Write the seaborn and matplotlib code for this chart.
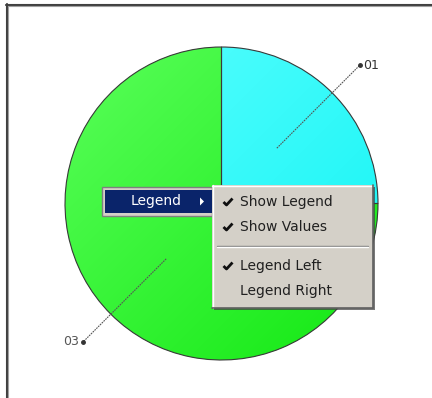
import matplotlib
matplotlib.use("Agg")
import matplotlib.pyplot as plt
import seaborn as sns
from matplotlib.patches import Rectangle, Polygon
from matplotlib.colors import to_rgb
import numpy as np

# ---- data ----
labels = ["01", "03"]
values = [25, 75]
colors_light = ["#5cffff", "#5aff5a"]
colors_dark = ["#0ff4f4", "#12e812"]
menu_main = "Legend"
menu_items = ["Show Legend", "Show Values", "Legend Left", "Legend Right"]
menu_checked = [True, True, True, False]

sns.set_theme(style="white")
plt.rcParams['font.family'] = ['DejaVu Sans']

W, H = 432, 398
fig = plt.figure(figsize=(W / 100, H / 100), dpi=100)
ax = fig.add_axes([0, 0, 1, 1])

def Y(py):
    return H - py

cx, cy, r = 221.5, Y(203.5), 156.5
mid_colors = [tuple((np.array(to_rgb(a)) + np.array(to_rgb(b))) / 2)
              for a, b in zip(colors_light, colors_dark)]
wedges, _ = ax.pie(values, colors=mid_colors, startangle=90, counterclock=False,
                   center=(cx, cy), radius=r, frame=True,
                   wedgeprops=dict(linewidth=0))

# diagonal gradient fill clipped to each wedge
n = 200
gx, gy = np.meshgrid(np.linspace(0, 1, n), np.linspace(0, 1, n))
t = np.clip((gx + gy) / 2, 0, 1)[..., None]  # 0 at top-left, 1 at bottom-right
for w, cl, cd in zip(wedges, colors_light, colors_dark):
    img = (1 - t) * np.array(to_rgb(cl)) + t * np.array(to_rgb(cd))
    im = ax.imshow(img, extent=(cx - r, cx + r, cy - r, cy + r), origin="upper",
                   zorder=2, interpolation="bilinear")
    im.set_clip_path(w)

# outlines on top
ax.pie(values, colors=["none"] * len(values), startangle=90, counterclock=False,
       center=(cx, cy), radius=r, frame=True,
       wedgeprops=dict(edgecolor="#3a3a3a", linewidth=0.8, fill=False, zorder=3))

ax.set_xlim(0, W)
ax.set_ylim(0, H)
ax.set_aspect("equal")
ax.axis("off")

# leader lines and labels
for w, lab in zip(wedges, labels):
    ang = np.deg2rad((w.theta1 + w.theta2) / 2)
    x0, y0 = cx + 0.5 * r * np.cos(ang), cy + 0.5 * r * np.sin(ang)
    x1, y1 = cx + 1.25 * r * np.cos(ang), cy + 1.25 * r * np.sin(ang)
    ax.plot([x0, x1], [y0, y1], color="#555555", lw=0.8, ls=(0, (1.5, 0.8)), zorder=4)
    ax.plot([x1], [y1], marker="o", ms=2.5, color="#333333", zorder=4)
    if np.cos(ang) >= 0:
        ax.text(x1 + 3, y1, lab, ha="left", va="center", fontsize=9, color="#333333")
    else:
        ax.text(x1 - 4, y1, lab, ha="right", va="center", fontsize=9, color="#555555")

# frame lines
ax.plot([6, W], [Y(4.5), Y(4.5)], color="#404040", lw=1.5)
ax.plot([6.5, 6.5], [Y(4), 0], color="#404040", lw=1.5)
ax.plot([8, 8], [Y(6), 0], color="#a0a0a0", lw=0.8)
ax.plot([8, W], [Y(6), Y(6)], color="#a0a0a0", lw=0.8)

# context menu: highlighted item
mx0, mx1, my0, my1 = 102, 212, 187, 216
ax.add_patch(Rectangle((mx0, Y(my1)), mx1 - mx0, my1 - my0, facecolor="#d4d0c8",
                       edgecolor="#808080", lw=1, zorder=5))
ax.add_patch(Rectangle((mx0 + 3, Y(my1 - 3)), mx1 - mx0 - 3, my1 - my0 - 6,
                       facecolor="#0a246a", edgecolor="none", zorder=6))
ax.text(156, Y(201.5), menu_main, ha="center", va="center", fontsize=10,
        color="white", zorder=7)
ax.add_patch(Polygon([[200, Y(197.5)], [200, Y(205.5)], [204, Y(201.5)]],
                     closed=True, facecolor="white", edgecolor="none", zorder=7))

# submenu
sx0, sx1, sy0, sy1 = 212, 373, 185, 308
ax.add_patch(Rectangle((sx0 + 2, Y(sy1 + 2)), sx1 - sx0, sy1 - sy0,
                       facecolor="#404040", edgecolor="none", zorder=5, alpha=0.7))
ax.add_patch(Rectangle((sx0, Y(sy1)), sx1 - sx0, sy1 - sy0, facecolor="#d4d0c8",
                       edgecolor="none", zorder=6))
ax.plot([sx0, sx1], [Y(sy0 + 0.5), Y(sy0 + 0.5)], color="white", lw=1, zorder=7)
ax.plot([sx0 + 0.5, sx0 + 0.5], [Y(sy0), Y(sy1)], color="white", lw=1, zorder=7)
ax.plot([sx0, sx1], [Y(sy1 - 0.5), Y(sy1 - 0.5)], color="#606060", lw=1.2, zorder=7)
ax.plot([sx1 - 0.5, sx1 - 0.5], [Y(sy0), Y(sy1)], color="#606060", lw=1.2, zorder=7)

item_y = [202, 227, 266, 291]
for txt, chk, yy in zip(menu_items, menu_checked, item_y):
    ax.text(240, Y(yy), txt, ha="left", va="center", fontsize=10,
            color="#202020", zorder=8)
    if chk:
        ax.plot([223.5, 226.5, 232.5], [Y(yy), Y(yy + 3), Y(yy - 3.5)],
                color="#101010", lw=2, zorder=8, solid_capstyle="butt")
ax.plot([sx0 + 5, sx1 - 5], [Y(245.5), Y(245.5)], color="#808080", lw=1, zorder=8)
ax.plot([sx0 + 5, sx1 - 5], [Y(246.5), Y(246.5)], color="white", lw=1, zorder=8)

fig.savefig("out.png", dpi=100)
